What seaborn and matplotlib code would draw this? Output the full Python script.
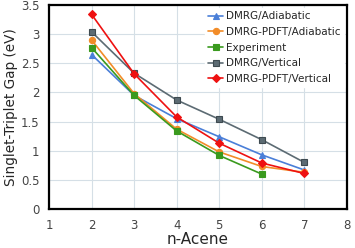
import matplotlib
matplotlib.use("Agg")
import matplotlib.pyplot as plt
import seaborn as sns
import pandas as pd

acenes = [2, 3, 4, 5, 6, 7]
dmrg_adiabatic = [2.65, 1.95, 1.55, 1.24, 0.93, 0.67]
pdft_adiabatic = [2.90, 1.98, 1.37, 0.98, 0.73, 0.63]
experiment = [2.77, 1.95, 1.34, 0.92, 0.60]
dmrg_vertical = [3.04, 2.33, 1.87, 1.54, 1.19, 0.80]
pdft_vertical = [3.34, 2.32, 1.58, 1.13, 0.79, 0.61]

series = [
    ("DMRG/Adiabatic", dmrg_adiabatic, "#4a7fd8", "^", "#4a7fd8"),
    ("DMRG-PDFT/Adiabatic", pdft_adiabatic, "#f28c28", "o", "#f28c28"),
    ("Experiment", experiment, "#3a9a1e", "s", "#3a9a1e"),
    ("DMRG/Vertical", dmrg_vertical, "#5c6b73", "s", "#3e4a50"),
    ("DMRG-PDFT/Vertical", pdft_vertical, "#ee1111", "D", "#ee1111"),
]

rows = []
for name, vals, *_ in series:
    for x, v in zip(acenes, vals):
        rows.append({"n": x, "gap": v, "series": name})
df = pd.DataFrame(rows)

sns.set_style("white")
plt.rcParams['font.family'] = ['DejaVu Sans']
fig = plt.figure(figsize=(3.55, 2.48), dpi=100)
ax = fig.add_axes([0.138, 0.157, 0.839, 0.823])

for name, vals, color, marker, edge in series:
    sub = df[df["series"] == name]
    ms = 4.5 if marker != "D" else 4
    sns.lineplot(data=sub, x="n", y="gap", ax=ax, color=color, marker=marker,
                 markersize=ms, markeredgecolor=edge, markeredgewidth=0.8,
                 linewidth=1.2, label=name)

ax.set_xlim(1, 8)
ax.set_ylim(0, 3.5)
ax.set_xticks(range(1, 9))
ax.set_yticks([0, 0.5, 1, 1.5, 2, 2.5, 3, 3.5])
ax.set_yticklabels(["0", "0.5", "1", "1.5", "2", "2.5", "3", "3.5"])
ax.grid(True, color="#d5dfe6", linewidth=0.8)
ax.set_axisbelow(True)
for s in ax.spines.values():
    s.set_color("black")
    s.set_linewidth(1.6)
ax.tick_params(axis="x", labelsize=8.5, length=0, pad=7, colors="#444444")
ax.tick_params(axis="y", labelsize=8.5, length=0, pad=7, colors="#444444")
ax.set_xlabel("n-Acene", fontsize=11, labelpad=0)
ax.set_ylabel("Singlet-Triplet Gap (eV)", fontsize=9.8, labelpad=2)

leg = ax.legend(loc="upper right", fontsize=7.5, frameon=True, fancybox=False,
                edgecolor="white", framealpha=1, handlelength=1.4,
                handletextpad=0.3, labelspacing=0.55, borderaxespad=0.3,
                borderpad=0.3)

fig.savefig("out.png", dpi=100)
